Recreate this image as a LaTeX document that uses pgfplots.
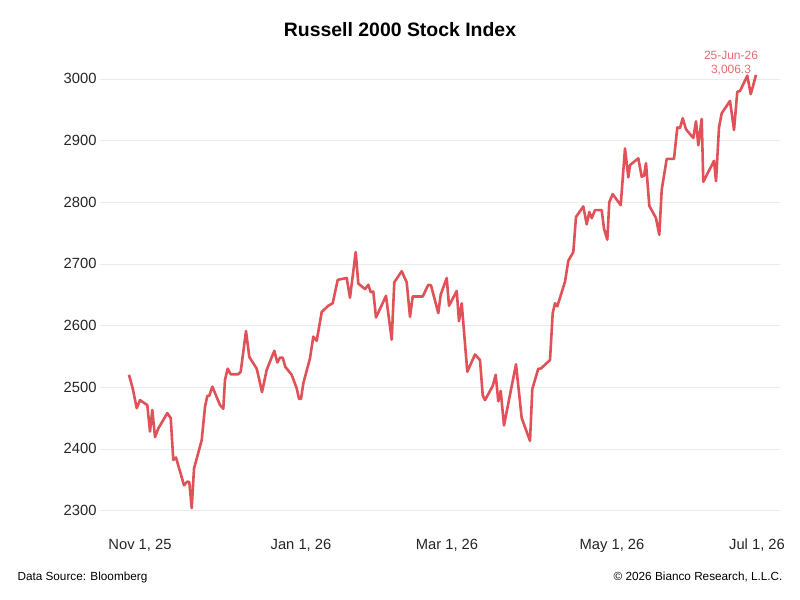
\documentclass[border=0pt]{standalone}
\usepackage{pgfplots}
\pgfplotsset{compat=1.18}
\usepackage{fontspec}
\setmainfont{Liberation Sans}
\definecolor{lc}{RGB}{224,82,88}
\definecolor{gc}{RGB}{235,235,235}
\begin{document}
\begin{tikzpicture}[x=1bp,y=1bp]
\path[fill=white] (0,0) rectangle (800,600);
\node[font=\bfseries\fontsize{19.5}{22}\selectfont] at (400,570) {Russell 2000 Stock Index};
\node[anchor=west,font=\fontsize{11.8}{13}\selectfont] at (14,23) {Data Source: Bloomberg};
\node[anchor=east,font=\fontsize{11.8}{13}\selectfont] at (786,23) {\textcopyright{} 2026 Bianco Research, L.L.C.};
\begin{axis}[at={(100,114)},anchor=south west,scale only axis,width=680bp,height=483bp,
  xmin=100,xmax=780,ymin=2269,ymax=3052,
  axis line style={draw=none},
  tick style={draw=none},
  ymajorgrids, grid style={gc},
  xtick={140,301,447,612,757},
  xticklabels={{Nov 1, 25},{Jan 1, 26},{Mar 1, 26},{May 1, 26},{Jul 1, 26}},
  ytick={2300,2400,2500,2600,2700,2800,2900,3000},
  /pgf/number format/assume math mode=true,
  /pgf/number format/1000 sep={},
  ticklabel style={font=\fontsize{14.8}{16}\selectfont, text=black!85},
  xticklabel style={yshift=-6bp},
  clip=false]
\addplot[lc, line width=2.6bp, line join=round] coordinates {
(129,2520)(132.7,2498)(136.7,2466)(140,2479)(147.3,2471)(150,2428)(152.3,2463)(155,2419)(158.3,2433)(167.3,2458)(170.7,2450)(173.3,2382)(176,2386)(184,2341)(187.3,2347)(189.3,2346)(191.7,2304)(194,2368)(201.7,2414)(205,2468)(207.3,2486)(209.3,2486)(212.3,2501)(220,2471)(223.3,2465)(225,2512)(227.7,2530)(230.7,2521)(238.3,2521)(240.7,2525)(246,2591)(249.3,2549)(256.7,2530)(259,2514)(262,2492)(266.7,2528)(274.3,2559)(277.3,2540)(280,2548)(282.7,2548)(285.3,2533)(291.7,2520)(296.7,2498)(299,2481)(301,2481)(303.3,2506)(310,2547)(313.3,2582)(316.7,2575)(321.7,2622)(328.3,2632)(332.7,2636)(337.7,2674)(346.7,2677)(350,2645)(355.7,2719)(358.3,2668)(365,2659)(368.3,2666)(370.7,2654)(373.3,2655)(376,2613)(386,2648)(391.7,2577)(394.3,2670)(401.7,2688)(406.7,2670)(410,2614)(412.7,2647)(422.7,2647)(428.3,2666)(431,2665)(438.3,2620)(440.7,2650)(446.7,2677)(449,2632)(456.7,2656)(459,2607)(461.7,2636)(467.3,2525)(475,2553)(480,2544)(482.7,2487)(485,2479)(492.7,2502)(495.7,2520)(498.3,2477)(500.7,2494)(504,2438)(511.7,2502)(516,2537)(521.7,2450)(530,2413)(532.3,2497)(538.3,2530)(540.7,2530)(550,2544)(552.7,2620)(555,2636)(557.3,2631)(565,2671)(568.3,2705)(573.3,2719)(576,2776)(583.3,2793)(586.7,2764)(589.3,2784)(591.7,2774)(595,2787)(601.7,2787)(604,2757)(607.3,2739)(609.3,2800)(612.7,2813)(620.7,2795)(625,2887)(628.3,2840)(630,2860)(638.3,2871)(641.7,2841)(644,2843)(646,2863)(649.3,2794)(656,2774)(659.3,2747)(661.7,2820)(666.7,2870)(674,2870)(677.3,2921)(680,2920)(682.7,2936)(686,2918)(693.3,2904)(696,2931)(698.3,2892)(701.7,2935)(703.3,2833)(714,2867)(716,2834)(719,2921)(721.7,2944)(730,2964)(734,2917)(737.3,2979)(740,2980)(747.3,3005)(750.7,2975)(753.3,2990)(756,3006.3)
};
\node[text=lc!85,font=\fontsize{12}{14}\selectfont,align=center,inner sep=0pt] at (axis cs:731,3026) {25-Jun-26\\3,006.3};
\end{axis}
\end{tikzpicture}
\end{document}
